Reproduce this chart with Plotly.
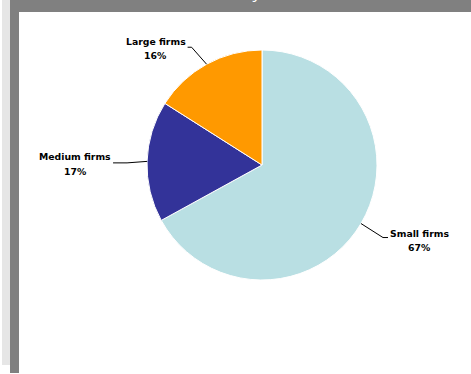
import math
import plotly.graph_objects as go

categories = ["Small firms", "Medium firms", "Large firms"]
values = [67, 17, 16]
colors = ["#B9DFE3", "#333399", "#FF9900"]
title_text = "Turnover, by firm size"

W, H = 471, 374
cx, cy, R = 262, 165, 115  # pie centre / radius in pixels

def px(x):
    return x / W

def py(y):
    return 1 - y / H

fig = go.Figure(go.Pie(
    labels=categories, values=values, sort=False, direction="clockwise",
    rotation=0, marker=dict(colors=colors, line=dict(color="white", width=1)),
    textinfo="none", hoverinfo="label+percent", showlegend=False,
    domain=dict(x=[px(cx - R), px(cx + R)], y=[py(cy + R), py(cy - R)]),
))

shapes = [
    dict(type="rect", xref="paper", yref="paper", x0=px(2), x1=px(10), y0=py(365), y1=1,
         fillcolor="#E6E6E6", line_width=0, layer="below"),
    dict(type="rect", xref="paper", yref="paper", x0=px(10), x1=px(19), y0=py(373), y1=1,
         fillcolor="#808080", line_width=0, layer="below"),
    dict(type="rect", xref="paper", yref="paper", x0=px(10), x1=1, y0=py(12), y1=1,
         fillcolor="#808080", line_width=0, layer="below"),
]

annotations = [
    dict(text=title_text, xref="paper", yref="paper", x=px(247), y=py(-8),
         xanchor="center", yanchor="middle", showarrow=False,
         font=dict(family="Open Sans", size=17, color="white")),
]

label_cfg = {
    "Small firms": dict(elbow=(22, 14), tail=5, text_dx=32, text_dy=3),
    "Medium firms": dict(elbow=(-20, 1.5), tail=-14, text_dx=-38, text_dy=1.5),
    "Large firms": dict(elbow=(-15, -17), tail=-4, text_dx=-32, text_dy=1.5),
}
total = sum(values)
cum = 0
for cat, v in zip(categories, values):
    mid = (cum + v / 2) / total * 2 * math.pi
    cum += v
    ex = cx + R * math.sin(mid)
    ey = cy - R * math.cos(mid)
    cfg = label_cfg[cat]
    bx, by = ex + cfg["elbow"][0], ey + cfg["elbow"][1]
    tx = bx + cfg["tail"]
    shapes.append(dict(type="path", xref="paper", yref="paper",
                       path=f"M {px(ex)},{py(ey)} L {px(bx)},{py(by)} L {px(tx)},{py(by)}",
                       line=dict(color="black", width=1)))
    lx = tx + cfg["text_dx"]
    ly = by + cfg["text_dy"]
    for line_text, off in ((cat, -7.5), (f"{round(v / total * 100)}%", 7)):
        annotations.append(dict(
            text=f"<b>{line_text}</b>", xref="paper", yref="paper",
            x=px(lx), y=py(ly + off), xanchor="center", yanchor="middle",
            showarrow=False, font=dict(family="DejaVu Sans", size=9.3, color="#000000")))

fig.update_layout(width=W, height=H, margin=dict(l=0, r=0, t=0, b=0),
                  paper_bgcolor="white", plot_bgcolor="white",
                  shapes=shapes, annotations=annotations)
fig.write_html("out.html")
